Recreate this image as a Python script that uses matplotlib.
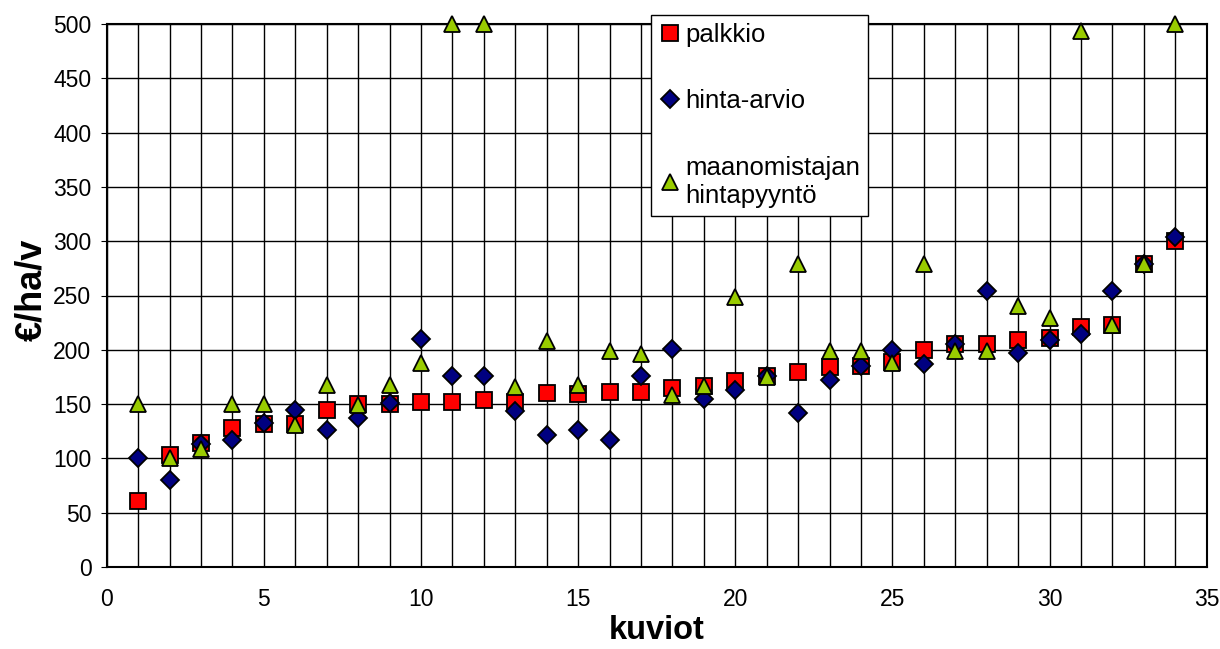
import matplotlib
matplotlib.use("Agg")
import matplotlib.pyplot as plt
from matplotlib.ticker import MultipleLocator

plt.rcParams['font.family'] = ['Liberation Sans', 'DejaVu Sans']

kuviot = list(range(1, 35))
palkkio = [61, 103, 114, 128, 132, 132, 145, 150, 150, 152, 152, 154, 152, 160, 159, 161, 161,
           165, 167, 171, 176, 180, 184, 185, 189, 200, 205, 205, 209, 211, 221, 223, 279, 300]
hinta_arvio = [100, 80, 113, 117, 133, 145, 126, 137, 151, 210, 176, 176, 144, 122, 126, 117, 176,
               201, 155, 163, 176, 142, 172, 185, 200, 187, 205, 254, 197, 209, 215, 254, 279, 304]
hintapyynto = [150, 100, 109, 150, 150, 131, 168, 149, 168, 188, 500, 500, 166, 208, 168, 199, 196,
               158, 167, 249, 175, 279, 199, 199, 188, 279, 199, 199, 240, 229, 494, 223, 279, 500]

labels = ["palkkio", "hinta-arvio", "maanomistajan\nhintapyyntö"]

W, H = 1220, 649
fig = plt.figure(figsize=(W / 100, H / 100), dpi=100)
ax = fig.add_axes([106.7 / W, 82 / H, 1100 / W, 543 / H])

ax.plot(kuviot, palkkio, linestyle='none', marker='s', markersize=11.5, markerfacecolor='#FF0000',
        markeredgecolor='black', markeredgewidth=1.3, label=labels[0], clip_on=False, zorder=3)
ax.plot(kuviot, hinta_arvio, linestyle='none', marker='D', markersize=9.5, markerfacecolor='#000080',
        markeredgecolor='black', markeredgewidth=1.3, label=labels[1], clip_on=False, zorder=4)
ax.plot(kuviot, hintapyynto, linestyle='none', marker='^', markersize=12, markerfacecolor='#99CC00',
        markeredgecolor='black', markeredgewidth=1.3, label=labels[2], clip_on=False, zorder=5)

ax.set_xlim(0, 35)
ax.set_ylim(0, 500)
ax.xaxis.set_major_locator(MultipleLocator(5))
ax.xaxis.set_minor_locator(MultipleLocator(1))
ax.yaxis.set_major_locator(MultipleLocator(50))
ax.grid(True, which='both', axis='x', color='black', linewidth=1.0)
ax.grid(True, which='major', axis='y', color='black', linewidth=1.0)
ax.set_axisbelow(True)

for s in ax.spines.values():
    s.set_color('black')
    s.set_linewidth(1.5)

ax.tick_params(axis='x', which='both', length=0, pad=15, labelsize=16.5)
ax.tick_params(axis='y', which='major', length=4, direction='out', pad=7, labelsize=16.5)

ax.set_xlabel("kuviot", fontsize=23.5, fontweight='bold')
ax.xaxis.set_label_coords(0.5, -0.088)
ax.set_ylabel("€/ha/v", fontsize=26, fontweight='bold')
ax.yaxis.set_label_coords(-0.052, 0.51)

leg = fig.legend(loc='upper left', bbox_to_anchor=(651 / W, 1 - 15 / H), borderaxespad=0,
                 fontsize=18.5, frameon=True, fancybox=False, framealpha=1, edgecolor='black',
                 handlelength=0.9, handletextpad=0.15, borderpad=0.3, labelspacing=1.66,
                 numpoints=1)
leg.get_frame().set_linewidth(1.0)

fig.savefig("out.png", dpi=100)
